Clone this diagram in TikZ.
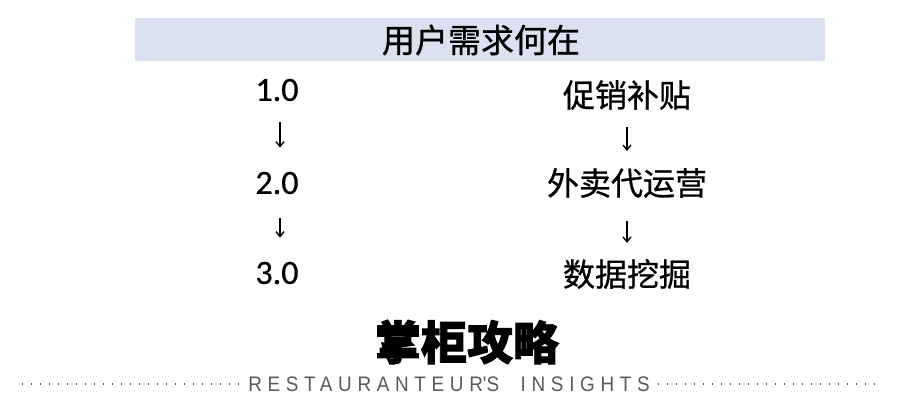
\documentclass[tikz,border=0pt]{standalone}
\usepackage{fontspec}
\newfontfamily\cjk{Noto Sans CJK SC}[FakeBold=0.8]
\newfontfamily\cjkheavy{Noto Sans CJK SC}[BoldFeatures={FakeBold=2}]
\newfontfamily\numfont{Carlito}[FakeBold=0.5]
\newfontfamily\tagfont{Liberation Sans}[LetterSpace=30]
\usetikzlibrary{arrows.meta}
\definecolor{barblue}{RGB}{219,225,241}
\definecolor{taggray}{RGB}{90,90,90}
\tikzset{
    stage/.style = {inner sep=0pt, font=\numfont\fontsize{34}{34}\selectfont},
    service/.style = {inner sep=0pt, font=\cjk\fontsize{32}{32}\selectfont},
    arr/.style = {-{Straight Barb[length=5pt,width=8pt]}, line width=1.3pt},
    dotline/.style = {taggray, line width=2pt, dash pattern=on 1.2pt off 7.8pt}
}

\begin{document}
\begin{tikzpicture}[x=1pt, y=-1pt]
    \useasboundingbox[fill=white] (0,0) rectangle (900,407);
    \fill[barblue] (135,18) rectangle (825,61);
    \node[service, font=\cjk\fontsize{33}{33}\selectfont] (title) at (481,40) {用户需求何在};

    \node[stage] (v1) at (277,90) {1.0};
    \node[stage] (v2) at (277,183) {2.0};
    \node[stage] (v3) at (277,273) {3.0};
    \draw[arr, shorten <= 21pt, shorten >= 24pt] ([xshift=3pt]v1.south) -- ([xshift=3pt]v2.north);
    \draw[arr, shorten <= 24pt, shorten >= 24pt] ([xshift=3pt]v2.south) -- ([xshift=3pt]v3.north);

    \node[service] (s1) at (627,95) {促销补贴};
    \node[service] (s2) at (627,183) {外卖代运营};
    \node[service] (s3) at (627,274) {数据挖掘};
    \draw[arr, shorten <= 17pt, shorten >= 17pt] (s1.south) -- (s2.north);
    \draw[arr, shorten <= 23pt, shorten >= 16pt] (s2.south) -- (s3.north);

    \node[inner sep=0pt, font=\cjkheavy\bfseries\fontsize{46}{46}\selectfont] (brand) at (467,342) {掌柜攻略};
    \node[inner sep=0pt, taggray, xscale=0.9, font=\tagfont\fontsize{21}{21}\selectfont] (tag) at (449,384)
        {RESTAURANTEUR\textquotesingle S\hspace{24pt}INSIGHTS};
    \coordinate (dl) at (22,384);
    \coordinate (dr) at (880,384);
    \draw[dotline] (dl) -- ([xshift=-8pt]tag.west);
    \draw[dotline] ([xshift=8pt]tag.east) -- (dr);
\end{tikzpicture}
\end{document}
